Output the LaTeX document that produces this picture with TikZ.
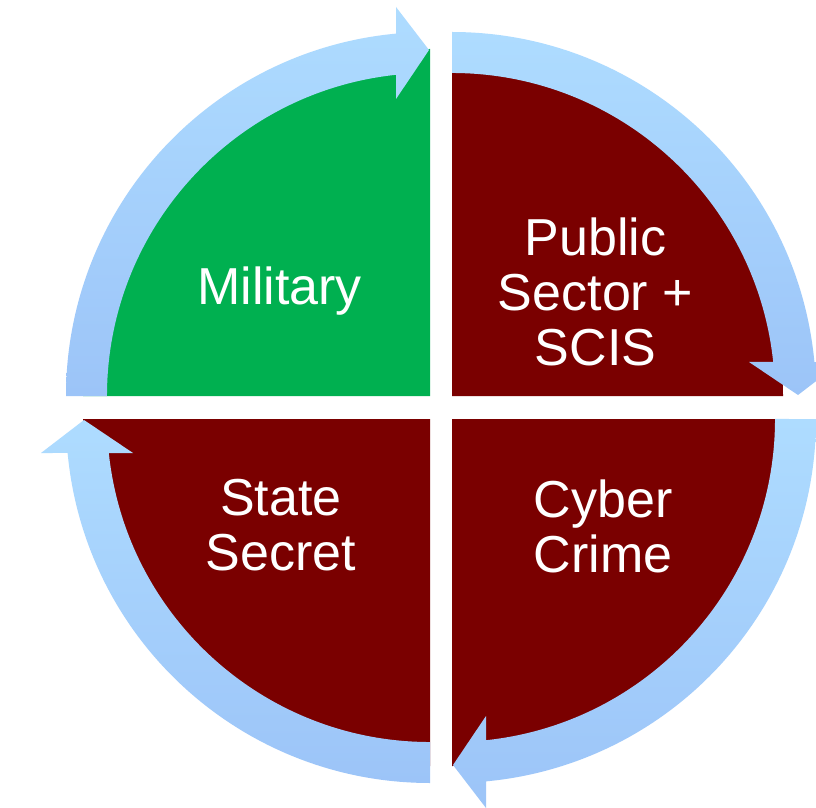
\documentclass[tikz,border=0pt]{standalone}
\usepackage{fontspec}
\setmainfont{Liberation Sans}
\begin{document}
\begin{tikzpicture}[x=1pt,y=1pt,
  sectorgreen/.style={fill=quadgreen},
  sectorred/.style={fill=quadred},
  ringarrow/.style={top color=ringtop,bottom color=ringbottom,draw=none},
  label/.style={text=white,align=center,inner sep=0pt,anchor=base,
    font=\fontsize{52}{55}\selectfont}]
\definecolor{quadgreen}{HTML}{00B050}
\definecolor{quadred}{HTML}{7A0000}
\definecolor{ringtop}{HTML}{AEDCFF}
\definecolor{ringbottom}{HTML}{9CC4F8}
\useasboundingbox (0,0) rectangle (816,807);
\clip (0,0) rectangle (816,807);
\fill[white] (0,0) rectangle (816,807);
% corners
\coordinate (tl) at (430,411);
\coordinate (tr) at (452,411);
\coordinate (bl) at (430,388);
\coordinate (br) at (452,388);
% sectors
\fill[sectorgreen] (tl) -- ++(180:347) arc[start angle=180,end angle=90,radius=347] -- cycle;
\fill[sectorred] (tr) -- ++(90:331) arc[start angle=90,end angle=0,radius=331] -- cycle;
\fill[sectorred] (br) -- ++(0:347) arc[start angle=0,end angle=-90,radius=347] -- cycle;
\fill[sectorred] (bl) -- ++(-90:347) arc[start angle=270,end angle=180,radius=347] -- cycle;
% ring arrows
\path[ringarrow,shift={(tl)}] (-364,0) arc[start angle=180,end angle=95.36,radius=364]
  -- (-34,389) -- (-1,346) -- (-34,297) -- (-34,321.2)
  arc[start angle=96.04,end angle=180,radius=323] -- cycle;
\path[ringarrow,shift={(tr)}] (0,364) arc[start angle=90,end angle=5.36,radius=364]
  -- (389,34) -- (346,1) -- (297,34) -- (321.2,34)
  arc[start angle=6.04,end angle=90,radius=323] -- cycle;
\path[ringarrow,shift={(br)}] (364,0) arc[start angle=0,end angle=-84.64,radius=364]
  -- (34,-389) -- (1,-346) -- (34,-297) -- (34,-321.2)
  arc[start angle=-83.96,end angle=0,radius=323] -- cycle;
\path[ringarrow,shift={(bl)}] (0,-364) arc[start angle=-90,end angle=-174.64,radius=364]
  -- (-389,-34) -- (-346,-1) -- (-297,-34) -- (-321.2,-34)
  arc[start angle=-173.96,end angle=-90,radius=323] -- cycle;
% labels (base anchor = baseline of last line)
\node[label] (mil) at (279.5,502) {Military};
\node[label] (pub) at (595.5,442) {Public\\Sector +\\SCIS};
\node[label] (sta) at (281,237) {State\\Secret};
\node[label] (cyb) at (603,235) {Cyber\\Crime};
\end{tikzpicture}
\end{document}
